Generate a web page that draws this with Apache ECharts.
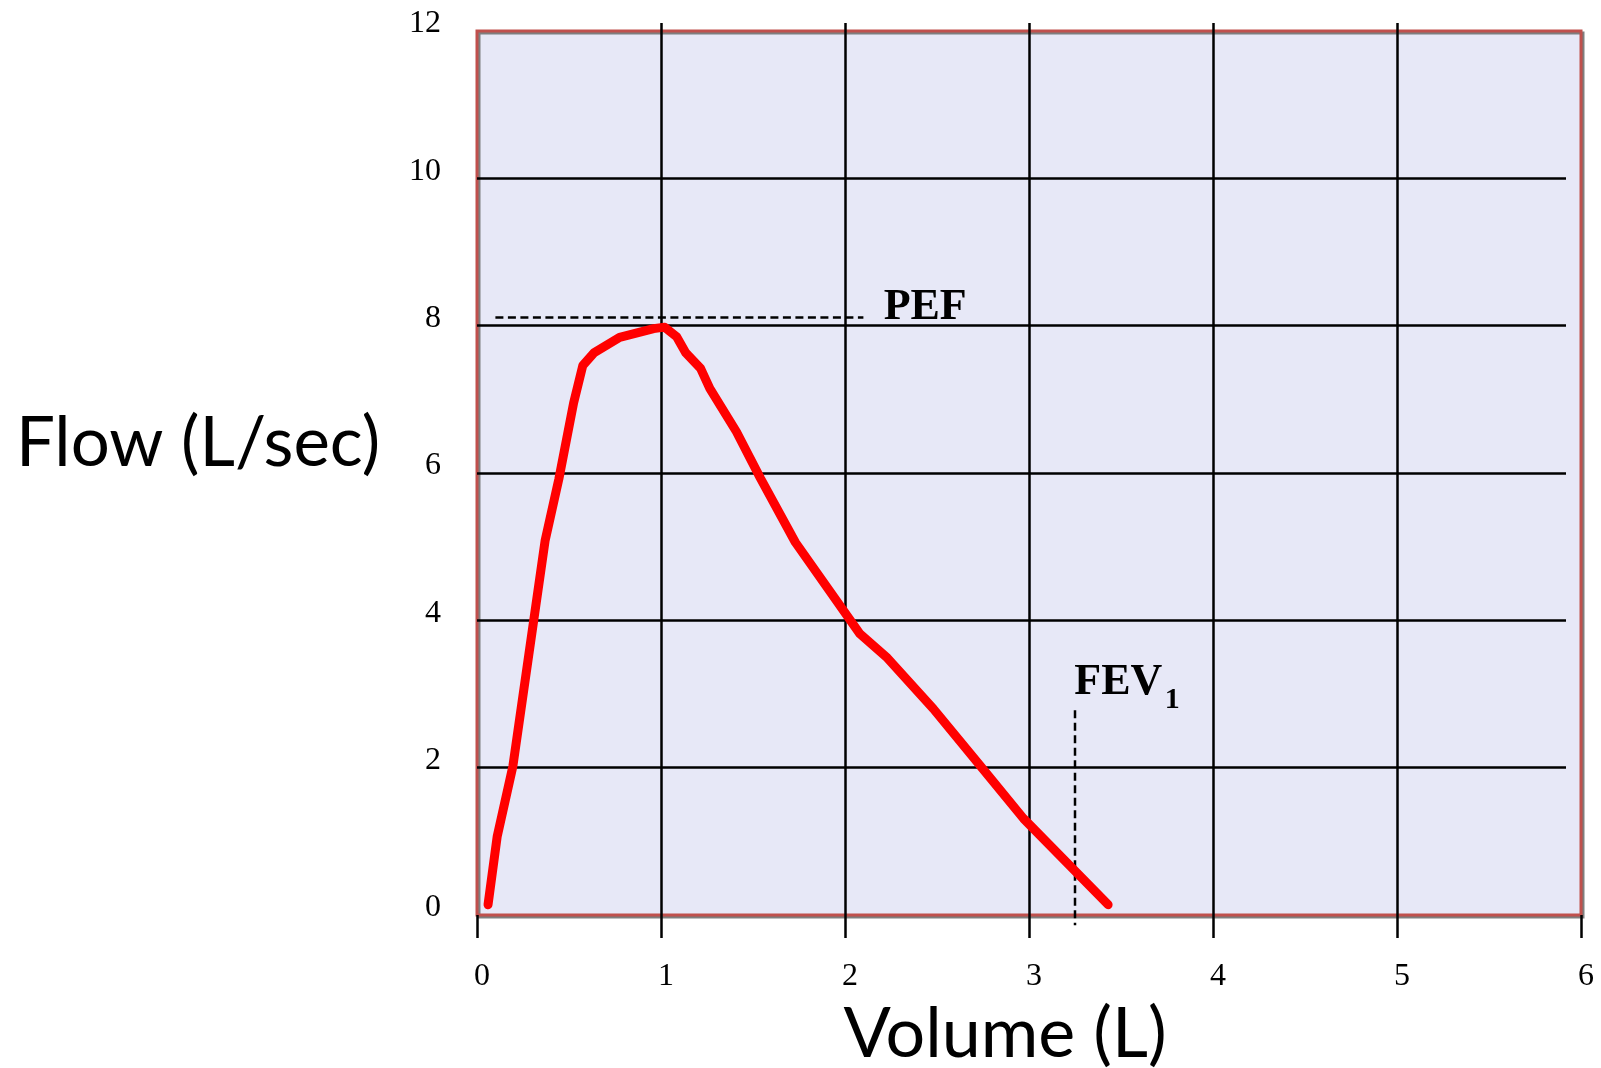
<!DOCTYPE html>
<html>
<head>
<meta charset="utf-8">
<script src="https://cdn.jsdelivr.net/npm/echarts@6/dist/echarts.min.js"></script>
<style>
html,body{margin:0;padding:0;background:#fff;}
#chart{width:1601px;height:1068px;}
</style>
</head>
<body>
<div id="chart"></div>
<script>
// Flow-volume curve
const volume = [0.06, 0.11, 0.195, 0.37, 0.445, 0.525, 0.575, 0.635, 0.775, 0.96, 1.02, 1.085, 1.135, 1.215, 1.265, 1.41, 1.54, 1.73, 2.08, 2.23, 2.48, 2.73, 2.97, 3.43];
const flow   = [0.14, 1.07, 2.02, 5.08, 5.92, 6.95, 7.46, 7.63, 7.84, 7.96, 7.98, 7.85, 7.63, 7.42, 7.15, 6.56, 5.93, 5.06, 3.82, 3.49, 2.80, 2.04, 1.31, 0.14];

// Reference dashed lines
const pefLineX = [0.10, 2.10];
const pefLineY = [8.11, 8.11];
const fevLineX = [3.25, 3.25];
const fevLineY = [2.78, -0.14];

// Annotation texts and their anchors (data units)
const annotTexts = ['PEF', 'FEV', '1'];
const annotX = [2.21, 3.246, 3.738];
const annotY = [8.25, 3.15, 2.915];

// Axes
const xTicks = [0, 1, 2, 3, 4, 5, 6];
const yTicks = [0, 2, 4, 6, 8, 10, 12];
const xTitle = 'Volume (L)';
const yTitle = 'Flow (L/sec)';

const zip = (a, b) => a.map((v, i) => [v, b[i]]);

const chart = echarts.init(document.getElementById('chart'), null, {renderer: 'canvas'});
const black = '#000000';
const serif = 'Liberation Serif';

const option = {
  animation: false,
  backgroundColor: '#ffffff',
  grid: [
    {left: 477, right: 20, top: 31, bottom: 153, show: true,
     backgroundColor: '#E7E8F7', borderColor: '#C0504D', borderWidth: 3,
     shadowColor: 'rgba(120,120,120,0.95)', shadowOffsetX: 2, shadowOffsetY: 2, shadowBlur: 0},
    {left: 477, right: 35, top: 31, bottom: 153, show: false}
  ],
  xAxis: [
    {gridIndex: 0, type: 'value', min: xTicks[0], max: xTicks[xTicks.length - 1], interval: 1, position: 'bottom',
     axisLine: {show: false},
     axisTick: {show: true, length: 23, lineStyle: {color: black, width: 2.5}},
     axisLabel: {margin: 46, fontFamily: serif, fontSize: 32, color: black, padding: [0, 0, 0, 10]},
     splitLine: {show: true, showMinLine: false, showMaxLine: false, lineStyle: {color: black, width: 2.5}}},
    {gridIndex: 0, type: 'value', min: xTicks[0], max: xTicks[xTicks.length - 1], interval: 1, position: 'top',
     axisLine: {show: false},
     axisTick: {show: true, length: 8, customValues: xTicks.slice(1, -1), lineStyle: {color: black, width: 2.5}},
     axisLabel: {show: false}, splitLine: {show: false}},
    {gridIndex: 1, type: 'value', min: 0, max: 6, show: false}
  ],
  yAxis: [
    {gridIndex: 0, type: 'value', min: yTicks[0], max: yTicks[yTicks.length - 1], interval: 2,
     axisLine: {show: false}, axisTick: {show: false}, splitLine: {show: false},
     axisLabel: {margin: 36, fontFamily: serif, fontSize: 32, color: black, verticalAlign: 'bottom', lineHeight: 14}},
    {gridIndex: 1, type: 'value', min: yTicks[0], max: yTicks[yTicks.length - 1], interval: 2,
     axisLine: {show: false}, axisTick: {show: false}, axisLabel: {show: false},
     splitLine: {show: true, showMinLine: false, showMaxLine: false, lineStyle: {color: black, width: 2.5}}}
  ],
  series: [
    {type: 'line', name: 'PEF ref', xAxisIndex: 0, yAxisIndex: 0, data: zip(pefLineX, pefLineY),
     symbol: 'none', silent: true, z: 3,
     lineStyle: {color: black, width: 2.5, type: [8, 4.5]}},
    {type: 'line', name: 'FEV1 ref', xAxisIndex: 0, yAxisIndex: 0, data: zip(fevLineX, fevLineY),
     symbol: 'none', silent: true, clip: false, z: 3,
     lineStyle: {color: black, width: 2.5, type: [8, 4.5]}},
    {type: 'line', name: 'Flow-volume', xAxisIndex: 0, yAxisIndex: 0, data: zip(volume, flow),
     symbol: 'none', silent: true, clip: false, z: 5,
     lineStyle: {color: '#FF0000', width: 9, cap: 'round', join: 'round'}},
    {type: 'scatter', name: 'labels', xAxisIndex: 0, yAxisIndex: 0, symbolSize: 0, silent: true, clip: false, z: 6,
     itemStyle: {opacity: 1},
     data: annotTexts.map((t, i) => ({
       value: [annotX[i], annotY[i]],
       label: {show: true, position: 'right', distance: 0, formatter: t, opacity: 1,
               fontFamily: serif, fontWeight: 'bold', fontSize: i === 2 ? 30 : 44, color: black}
     }))}
  ],
  graphic: [
    {type: 'text', x: 198, y: 444, silent: true,
     style: {text: yTitle, fontFamily: 'Lato', fontSize: 69, fill: black, align: 'center', verticalAlign: 'middle'}},
    {type: 'text', x: 1005, y: 1034, silent: true,
     style: {text: xTitle, fontFamily: 'Lato', fontSize: 70, fill: black, align: 'center', verticalAlign: 'middle'}}
  ]
};
chart.setOption(option);
</script>
</body>
</html>
